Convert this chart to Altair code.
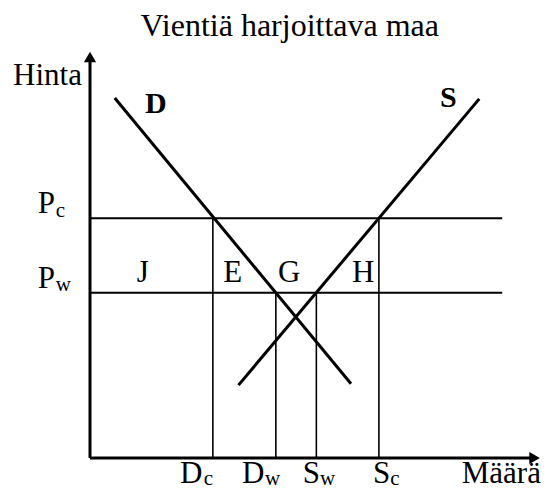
import altair as alt
import pandas as pd

# ---- chart content (data units: quantity 0..100, price 0..100) ----
title_text = "Vientiä harjoittava maa"
y_axis_label = "Hinta"
x_axis_label = "Määrä"

price_main = ["P", "P"]
price_sub = ["c", "w"]
price_levels = [53.3, 36.7]
price_line_end = 91.6

quantity_main = ["D", "D", "S", "S"]
quantity_sub = ["c", "w", "w", "c"]
quantity_values = [27.3, 41.3, 50.3, 64.2]
quantity_tops = [53.3, 36.7, 36.7, 53.3]

demand_q = [5.5, 58.0]
demand_p = [80.0, 16.5]
supply_q = [33.0, 86.5]
supply_p = [16.2, 79.8]

area_labels = ["J", "E", "G", "H"]
area_label_q = [10.4, 29.6, 41.8, 58.2]
area_label_p = [39.1, 39.1, 39.1, 39.1]

axis_q_max = 98.0
axis_p_max = 88.0

FONT = "Liberation Serif"

xs = alt.Scale(domain=[0, 100], nice=False, zero=False)
ys = alt.Scale(domain=[0, 100], nice=False, zero=False)

def X(f):
    return alt.X(f, type="quantitative", scale=xs, axis=None)

def Y(f):
    return alt.Y(f, type="quantitative", scale=ys, axis=None)

# axes
axes_df = pd.DataFrame({
    "q": [0.0, 0.0], "p": [0.0, 0.0],
    "q2": [axis_q_max, 0.0], "p2": [0.0, axis_p_max],
})
axes = alt.Chart(axes_df).mark_rule(color="black", strokeWidth=3).encode(
    x=X("q"), y=Y("p"), x2=alt.X2("q2"), y2=alt.Y2("p2"))

arrow_up = alt.Chart(pd.DataFrame({"q": [0.0], "p": [89.1]})).mark_point(
    shape="triangle-up", filled=True, color="black", size=150, opacity=1
).encode(x=X("q"), y=Y("p"))
arrow_right = alt.Chart(pd.DataFrame({"q": [98.8], "p": [0.0]})).mark_point(
    shape="triangle-right", filled=True, color="black", size=150, opacity=1
).encode(x=X("q"), y=Y("p"))

# price lines
price_df = pd.DataFrame({"p": price_levels, "q0": [0.0] * 2,
                         "q1": [price_line_end] * 2})
price_lines = alt.Chart(price_df).mark_rule(color="black", strokeWidth=2).encode(
    x=X("q0"), x2=alt.X2("q1"), y=Y("p"))

# quantity lines
qty_df = pd.DataFrame({"q": quantity_values, "p0": [0.0] * 4, "p1": quantity_tops})
qty_lines = alt.Chart(qty_df).mark_rule(color="black", strokeWidth=1.6).encode(
    x=X("q"), y=Y("p0"), y2=alt.Y2("p1"))

# demand & supply
curves_df = pd.DataFrame({
    "q": demand_q + supply_q,
    "p": demand_p + supply_p,
    "curve": ["D", "D", "S", "S"],
})
curves = alt.Chart(curves_df).mark_line(color="black", strokeWidth=3).encode(
    x=X("q"), y=Y("p"), detail="curve:N")

def text_layer(df, size, weight="normal", align="left"):
    return alt.Chart(df).mark_text(
        font=FONT, fontSize=size, fontWeight=weight, align=align,
        baseline="alphabetic", color="black"
    ).encode(x=X("q"), y=Y("p"), text="t:N")

title_df = pd.DataFrame({"t": [title_text], "q": [44.4], "p": [93.8]})
title = text_layer(title_df, 32, align="center")

main_df = pd.DataFrame({
    "t": [y_axis_label] + price_main + quantity_main + area_labels,
    "q": [-17.1] + [-11.6, -11.6] + [20.0, 33.8, 47.3, 62.9] + area_label_q,
    "p": [82.9] + [54.4, 37.8] + [-5.56] * 4 + area_label_p,
})
main_text = text_layer(main_df, 31)

xlabel_df = pd.DataFrame({"t": [x_axis_label], "q": [100.2], "p": [-5.56]})
xlabel_text = text_layer(xlabel_df, 31, align="right")

sub_df = pd.DataFrame({
    "t": price_sub + quantity_sub,
    "q": [-7.6, -7.6] + [25.3, 38.9, 51.1, 66.7],
    "p": [53.6, 37.1] + [-6.1] * 4,
})
sub_text = text_layer(sub_df, 21)

bold_df = pd.DataFrame({"t": ["D", "S"], "q": [12.2, 77.8], "p": [76.7, 78.0]})
bold_text = text_layer(bold_df, 30, weight="bold")

chart = alt.layer(
    axes, arrow_up, arrow_right, price_lines, qty_lines, curves,
    title, main_text, xlabel_text, sub_text, bold_text
).properties(
    width=450, height=450,
    autosize=alt.AutoSizeParams(type="none"),
    padding={"left": 82, "top": 0, "right": 2, "bottom": 32},
).configure_view(strokeWidth=0)

chart.save("out.html", embed_options={"renderer": "svg", "actions": False})
